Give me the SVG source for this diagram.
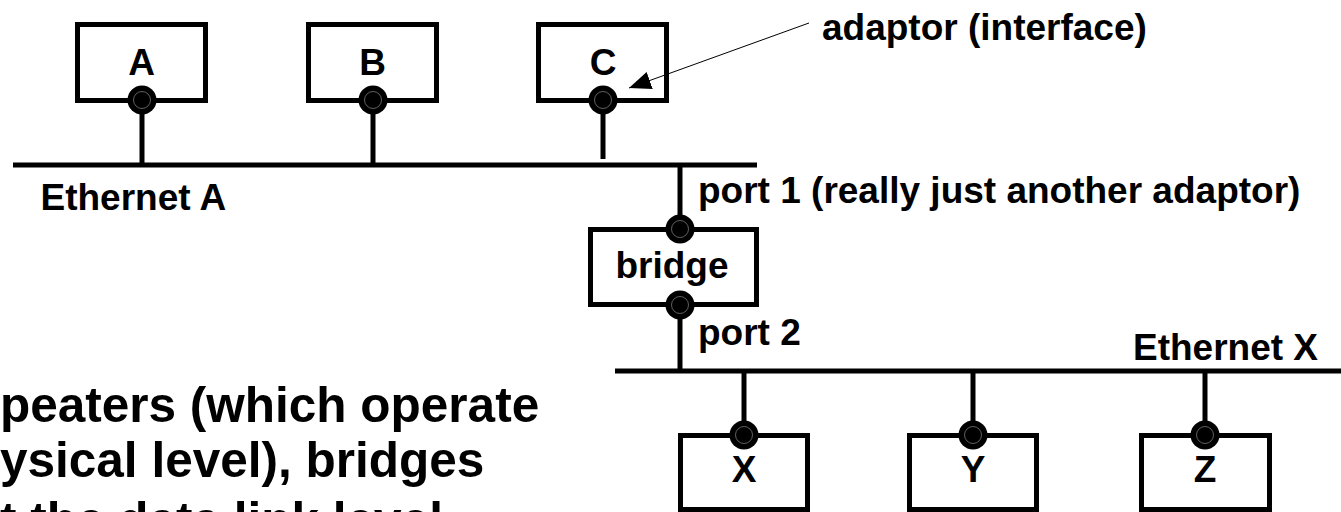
<svg xmlns="http://www.w3.org/2000/svg" width="1341" height="512" viewBox="0 0 1341 512">
<style>
.box{fill:#fff;stroke:#000;stroke-width:5}
.lbl{font-family:"Liberation Sans",Arial,sans-serif;font-weight:bold;font-size:37px;fill:#000}
.big{font-family:"Liberation Sans",Arial,sans-serif;font-weight:bold;font-size:49.5px;fill:#000}
.ad{fill:#000}
.ring{fill:none;stroke:#777;stroke-width:0.8}
.wire{stroke:#000;stroke-width:5;fill:none}
.bus{stroke:#000;stroke-width:5;fill:none}
.ptr{stroke:#000;stroke-width:1;fill:none}
</style>
<defs>
<marker id="arr" viewBox="0 0 22 18" refX="22" refY="9" markerWidth="22" markerHeight="18" markerUnits="userSpaceOnUse" orient="auto">
<path d="M0,0 L22,9 L0,18 z" fill="#000"/>
</marker>
<g id="adaptor"><circle r="14.5" class="ad"/><circle r="8.5" class="ring"/></g>
</defs>
<g id="connectors">
<line class="bus" x1="13" y1="165" x2="757" y2="165"/>
<line class="bus" x1="615" y1="371" x2="1341" y2="371"/>
<line class="wire" x1="142" y1="100" x2="142" y2="165"/>
<line class="wire" x1="373" y1="100" x2="373" y2="165"/>
<line class="wire" x1="603" y1="100" x2="603" y2="159"/>
<line class="wire" x1="680" y1="165" x2="680" y2="229"/>
<line class="wire" x1="680" y1="305" x2="680" y2="371"/>
<line class="wire" x1="744" y1="371" x2="744" y2="435"/>
<line class="wire" x1="973" y1="371" x2="973" y2="435"/>
<line class="wire" x1="1205" y1="371" x2="1205" y2="435"/>
</g>
<g id="nodeA"><rect class="box" x="77.5" y="24.5" width="128" height="76"/><text class="lbl" x="141.5" y="75" text-anchor="middle">A</text><use href="#adaptor" x="142" y="100"/></g>
<g id="nodeB"><rect class="box" x="308.5" y="24.5" width="128" height="76"/><text class="lbl" x="372.5" y="75" text-anchor="middle">B</text><use href="#adaptor" x="373" y="100"/></g>
<g id="nodeC"><rect class="box" x="538.5" y="24.5" width="128" height="76"/><text class="lbl" x="603" y="75" text-anchor="middle">C</text><use href="#adaptor" x="603" y="100"/></g>
<g id="bridge"><rect class="box" x="590.5" y="229.5" width="166" height="75"/><text class="lbl" x="672" y="278" text-anchor="middle">bridge</text><use href="#adaptor" x="680" y="229"/><use href="#adaptor" x="680" y="305"/></g>
<g id="nodeX"><rect class="box" x="680.5" y="435.5" width="127" height="74"/><text class="lbl" x="744" y="482" text-anchor="middle">X</text><use href="#adaptor" x="744" y="435"/></g>
<g id="nodeY"><rect class="box" x="909.5" y="435.5" width="127" height="74"/><text class="lbl" x="973" y="482" text-anchor="middle">Y</text><use href="#adaptor" x="973" y="435"/></g>
<g id="nodeZ"><rect class="box" x="1141.5" y="435.5" width="128" height="74"/><text class="lbl" x="1205" y="482" text-anchor="middle">Z</text><use href="#adaptor" x="1205" y="435"/></g>
<g id="pointer">
<line class="ptr" x1="809" y1="23" x2="629" y2="88" marker-end="url(#arr)"/>
</g>
<g id="labels">
<text class="lbl" x="822" y="40">adaptor (interface)</text>
<text class="lbl" x="40.5" y="210">Ethernet A</text>
<text class="lbl" x="698" y="203">port 1 (really just another adaptor)</text>
<text class="lbl" x="698" y="345">port 2</text>
<text class="lbl" x="1318" y="360" text-anchor="end">Ethernet X</text>
<text class="big" x="0" y="422">peaters (which operate</text>
<text class="big" x="0" y="477">ysical level), bridges</text>
<text class="big" x="0" y="537">t the data link level</text>
</g>
</svg>
